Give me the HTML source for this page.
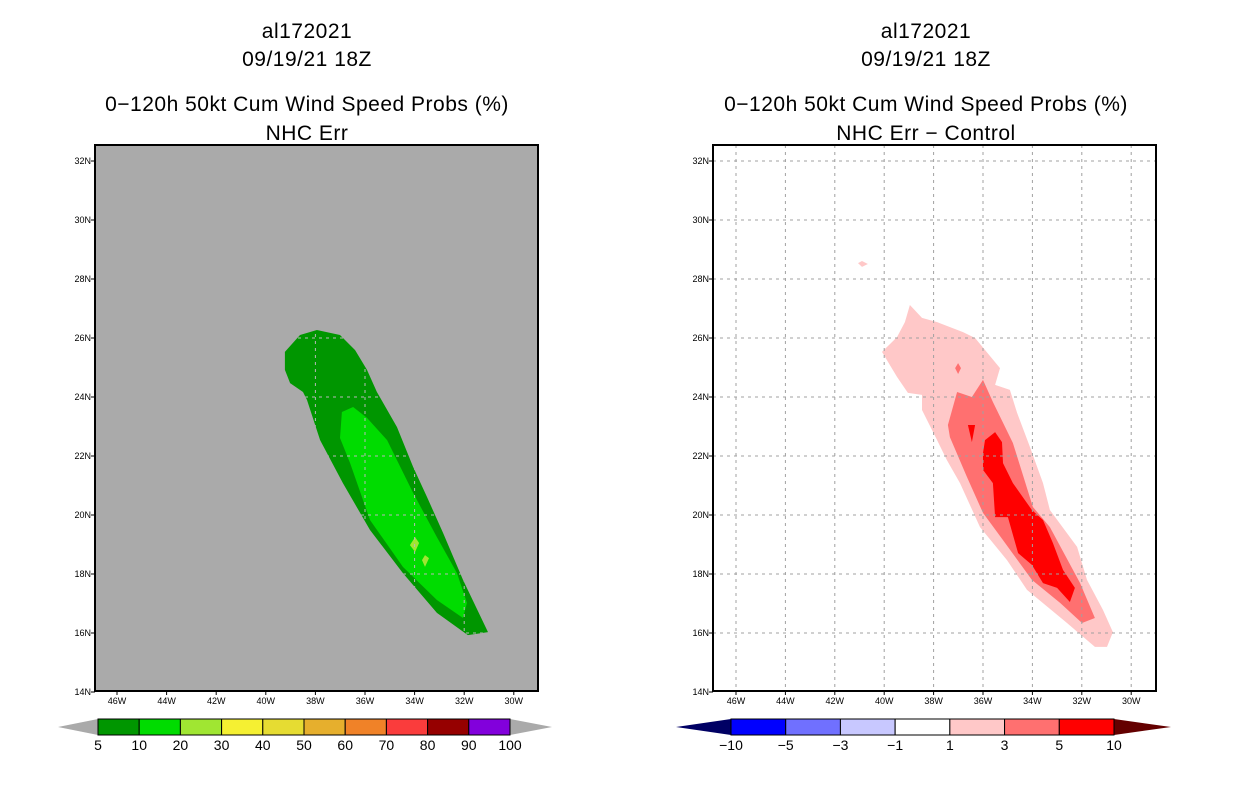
<!DOCTYPE html>
<html><head><meta charset="utf-8"><style>
body{margin:0;background:#fff;width:1236px;height:800px;overflow:hidden}
svg text{font-family:"Liberation Sans",sans-serif}
</style></head><body>
<svg id="c" width="1236" height="800"></svg>
<script>
const lonTicks=[46,44,42,40,38,36,34,32,30];
const latTicks=[14,16,18,20,22,24,26,28,30,32];
// contour polygons: [lonW, latN]
const left5=[[39.23,25.53],[38.62,26.10],[37.94,26.27],[37.01,26.10],[36.40,25.59],[35.92,24.92],[35.52,24.17],[34.71,22.98],[34.06,21.63],[33.50,20.61],[32.85,19.39],[32.05,17.80],[31.04,16.03],[31.85,15.93],[33.10,16.68],[34.47,18.03],[35.80,19.49],[36.89,21.08],[37.81,22.54],[38.34,23.90],[38.50,24.17],[39.02,24.47],[39.23,24.92]];
const left10=[[36.93,23.49],[36.48,23.66],[35.92,23.29],[35.11,22.54],[34.06,20.75],[33.10,19.25],[32.29,18.03],[31.89,17.02],[32.05,16.51],[33.10,17.12],[34.47,18.24],[35.80,19.83],[36.60,21.76],[37.01,22.61]];
const left20a=[[33.98,19.25],[34.19,18.98],[33.98,18.75],[33.82,19.05]];
const left20b=[[33.58,18.64],[33.70,18.47],[33.58,18.24],[33.42,18.54]];
const right1=[[40.09,25.53],[39.48,26.03],[39.16,26.54],[38.96,27.12],[38.47,26.68],[37.86,26.54],[36.81,26.20],[36.32,26.00],[35.31,24.98],[35.51,24.41],[34.91,24.24],[34.62,23.46],[34.10,22.31],[33.57,21.08],[33.29,20.17],[32.19,18.92],[31.79,17.80],[31.14,16.78],[30.74,16.03],[30.98,15.53],[31.47,15.53],[32.60,16.34],[34.22,17.46],[35.03,18.47],[36.12,19.59],[36.93,21.08],[37.46,21.86],[37.86,22.54],[38.47,23.56],[38.47,24.07],[39.04,24.14],[39.48,24.68]];
const right1b=[[41.06,28.54],[40.90,28.61],[40.66,28.51],[40.90,28.41]];
const right3=[[37.42,23.05],[37.05,24.17],[36.45,24.00],[36.00,24.58],[35.60,23.83],[34.79,22.44],[33.98,20.27],[33.29,19.59],[32.07,17.69],[31.47,16.51],[31.99,16.34],[32.88,17.02],[34.02,17.80],[35.19,19.15],[36.00,20.07],[36.65,21.29],[37.34,22.64]];
const right3b=[[37.13,24.98],[37.01,25.15],[36.89,24.98],[37.01,24.78]];
const right5=[[35.92,22.54],[35.51,22.81],[35.23,22.47],[35.19,21.76],[34.79,21.08],[34.02,20.17],[33.57,19.83],[33.17,19.05],[32.76,18.14],[32.28,17.53],[32.48,17.05],[33.00,17.53],[33.57,17.69],[34.02,18.31],[34.58,18.71],[34.99,19.93],[35.51,19.93],[35.60,21.08],[36.00,21.53],[36.00,22.10]];
const right5b=[[36.61,23.05],[36.32,23.05],[36.45,22.47]];
const leftCbLabels=["5","10","20","30","40","50","60","70","80","90","100"];
const leftCbColors=["#009600","#00dc00","#a0e632","#f5f032","#e6dc32","#e6af2d","#f08228","#fa3c3c","#960000","#8200dc"];
const rightCbLabels=["−10","−5","−3","−1","1","3","5","10"];
const rightCbColors=["#0000ff","#7070ff","#c8c8ff","#ffffff","#ffc8c8","#ff7070","#ff0000"];

const svg=document.getElementById('c');const NS='http://www.w3.org/2000/svg';
function el(t,a,p){const e=document.createElementNS(NS,t);for(const k in a)e.setAttribute(k,a[k]);(p||svg).appendChild(e);return e;}
function mk(x0,lonX46,pxPerDeg){return {x:lon=>lonX46-(lon-46)*pxPerDeg,y:lat=>161+(32-lat)*29.5,x0:x0};}
function pts(A,p){return p.map(q=>A.x(q[0]).toFixed(1)+','+A.y(q[1]).toFixed(1)).join(' ');}
function panel(x0,x46,ppd,bg,polys,gridCol,titles,cx,name,gridClip){
  const A=mk(x0,x46,ppd);const g=el('g',{});
  
  
  const bgR=el('rect',{x:x0,y:145,width:443,height:546,fill:bg},g);
  
  
  const cp=el('clipPath',{id:'cp'+x0},g);
  if(gridClip) el('polygon',{points:pts(A,gridClip)},cp);
  else el('rect',{x:x0,y:145,width:443,height:546},cp);
  const pg=el('g',{},g);
  polys.forEach(([pp,col,nm])=>{const p=el('polygon',{points:pts(A,pp),fill:col},pg);
    
    });
  const gg=el('g',{'clip-path':'url(#cp'+x0+')'},g);
  lonTicks.forEach(l=>{el('line',{x1:A.x(l),x2:A.x(l),y1:145,y2:691,stroke:gridCol,'stroke-width':1,'stroke-dasharray':'3,4'},gg);
    el('line',{x1:A.x(l),x2:A.x(l),y1:691,y2:695,stroke:'#000'},g);
    const t=el('text',{x:A.x(l),y:704,'font-size':9,'text-anchor':'middle'},g);t.textContent=l+'W';
    
    });
  latTicks.forEach(l=>{el('line',{x1:x0,x2:x0+443,y1:A.y(l),y2:A.y(l),stroke:gridCol,'stroke-width':1,'stroke-dasharray':'3,4'},gg);
    el('line',{x1:x0-4,x2:x0,y1:A.y(l),y2:A.y(l),stroke:'#000'},g);
    const t=el('text',{x:x0-4,y:A.y(l)+3,'font-size':9,'text-anchor':'end'},g);t.textContent=l+'N';
    
    });
  el('rect',{x:x0,y:145,width:443,height:546,fill:'none',stroke:'#000','stroke-width':2},g);
  [30,58,103,132].forEach((y,i)=>{const t=el('text',{x:cx,y:y+8,'font-size':21,'text-anchor':'middle','letter-spacing':'0.5'},g);t.textContent=titles[i];
    
    });
}
panel(95,117,24.8,'#aaaaaa',[[left5,'#009600','contour-5'],[left10,'#00dc00','contour-10'],[left20a,'#a0e632','contour-20a'],[left20b,'#a0e632','contour-20b']],'#b8b8b8',
 ['al172021','09/19/21 18Z','0−120h 50kt Cum Wind Speed Probs (%)','NHC Err'],307,'left-map',left5);
panel(713,736,24.7,'#ffffff',[[right1,'#ffc8c8','contour-1'],[right1b,'#ffc8c8','contour-1b'],[right3,'#ff7070','contour-3'],[right3b,'#ff7070','contour-3b'],[right5,'#ff0000','contour-5'],[right5b,'#ff0000','contour-5b']],'#a0a0a0',
 ['al172021','09/19/21 18Z','0−120h 50kt Cum Wind Speed Probs (%)','NHC Err − Control'],926,'right-map',null);

function cbar(x1,x2,l0,r1,colors,labels,lc,rc,name){
  const g=el('g',{});
  
  
  el('polygon',{points:`${l0},727 ${x1},719 ${x1},735`,fill:lc},g);
  el('polygon',{points:`${x2},719 ${r1},727 ${x2},735`,fill:rc},g);
  const w=(x2-x1)/colors.length;
  colors.forEach((c,i)=>{const r=el('rect',{x:x1+i*w,y:719,width:w,height:16,fill:c,stroke:'#000','stroke-width':1},g);
    
    });
  labels.forEach((s,i)=>{const t=el('text',{x:x1+i*w,y:750,'font-size':14,'text-anchor':'middle'},g);t.textContent=s;
    
    });
}
cbar(98,510,58,552,leftCbColors,leftCbLabels,'#aaaaaa','#aaaaaa','left-colorbar');
cbar(731,1114,676,1171,rightCbColors,rightCbLabels,'#000064','#640000','right-colorbar');
</script></body></html>
